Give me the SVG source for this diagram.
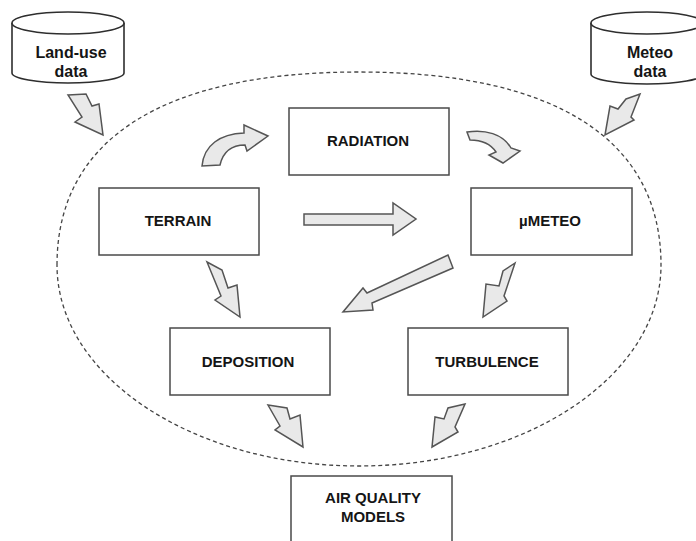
<svg xmlns="http://www.w3.org/2000/svg" width="696" height="541" viewBox="0 0 696 541">
<style>
.box{fill:#fff;stroke:#4a4a4a;stroke-width:1.5}
.cyl{fill:#fff;stroke:#2e2e2e;stroke-width:1.6}
.lbl{font-family:"Liberation Sans",Arial,sans-serif;font-weight:bold;font-size:15px;fill:#151515;text-anchor:middle}
.cl{font-size:16px}
.arr{fill:#e9e9e9;stroke:#555;stroke-width:1.5;stroke-linejoin:miter}
.bound{fill:none;stroke:#444;stroke-width:1.3;stroke-dasharray:4 3}
</style>
<rect width="696" height="541" fill="#fff"/>
<path id="boundary" class="bound" d="M57,265 C57,139.5 162.7,72 359,72 C555.3,72 661,139.5 661,265 C661,376 525.7,466 359,466 C192.3,466 57,376 57,265 Z"/>
<g id="landuse">
<path class="cyl" d="M12,23 L12,73 A56,10 0 0 0 124,73 L124,23"/>
<ellipse class="cyl" cx="68" cy="23" rx="56" ry="11"/>
<text class="lbl cl" x="71" y="58">Land-use</text>
<text class="lbl cl" x="71" y="77">data</text>
</g>
<g id="meteo">
<path class="cyl" d="M591,23 L591,74 A56,10 0 0 0 703,74 L703,23"/>
<ellipse class="cyl" cx="647" cy="23" rx="56" ry="11"/>
<text class="lbl cl" x="650" y="58">Meteo</text>
<text class="lbl cl" x="650" y="77">data</text>
</g>
<g id="radiation">
<rect class="box" x="289" y="108" width="160" height="67"/>
<text class="lbl" x="368" y="146">RADIATION</text>
</g>
<g id="terrain">
<rect class="box" x="99" y="188" width="160" height="67"/>
<text class="lbl" x="178" y="226">TERRAIN</text>
</g>
<g id="mumeteo">
<rect class="box" x="471" y="188" width="161" height="67"/>
<text class="lbl" x="550" y="226">µMETEO</text>
</g>
<g id="deposition">
<rect class="box" x="170" y="328" width="160" height="67"/>
<text class="lbl" x="248" y="367">DEPOSITION</text>
</g>
<g id="turbulence">
<rect class="box" x="408" y="328" width="160" height="67"/>
<text class="lbl" x="487" y="367">TURBULENCE</text>
</g>
<g id="aqm">
<rect class="box" x="291" y="476" width="161" height="80"/>
<text class="lbl" x="373" y="503">AIR QUALITY</text>
<text class="lbl" x="373" y="522">MODELS</text>
</g>
<g id="connectors">
<polygon class="arr" points="68,95 86,94 92,106 99,104 103,135 75,122 82,117"/>
<polygon class="arr" points="626,99 640,94 631,117 634,120 605,135 610,106 618,109"/>
<path class="arr" d="M202,166 C204,145 220,134 244,133 L244,125 L268,136 L247,151 L245,145 C232,145 223,152 220,165 Z"/>
<path class="arr" d="M467,132 C485,129 503,134 511,148 L520,151 L503,163 L489,155 L496,152 C490,143 480,140 470,140 Z"/>
<polygon class="arr" points="304,214 393,214 393,203 416,219 393,235 393,225 304,225"/>
<polygon class="arr" points="448,255 453,268 372,303 373,310 343,312 363,288 367,293"/>
<polygon class="arr" points="207,262 222,270 228,288 237,285 240,317 215,300 221,296"/>
<polygon class="arr" points="515,263 503,271 499,286 486,284 483,317 507,301 504,296"/>
<polygon class="arr" points="268,405 287,408 290,419 300,415 303,447 275,430 280,426"/>
<polygon class="arr" points="465,404 448,408 444,419 435,417 432,447 458,432 455,427"/>
</g>
</svg>
